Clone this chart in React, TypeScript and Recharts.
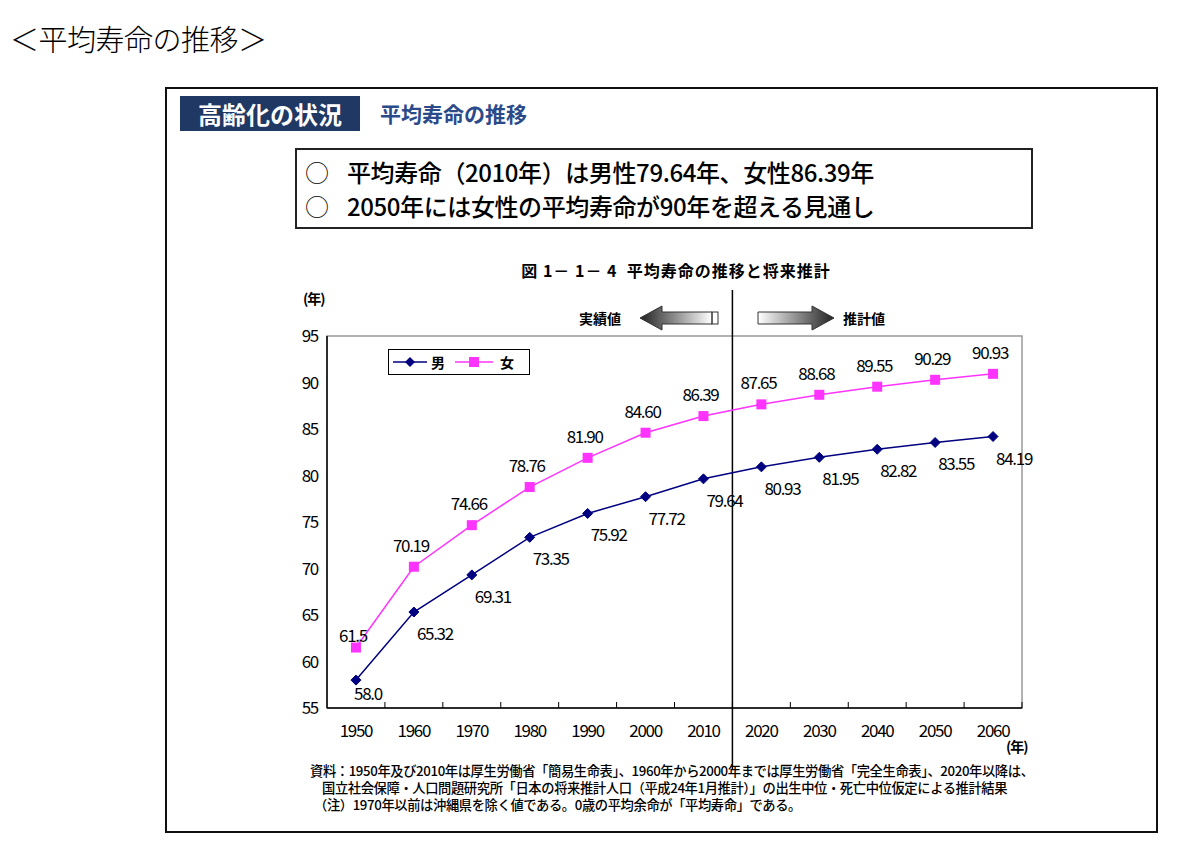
import React from "react";
import {
  LineChart,
  Line,
  XAxis,
  YAxis,
  ReferenceLine,
  ReferenceArea,
  LabelList,
  Legend
} from "recharts";

// 平均寿命の推移と将来推計
const years = [1950, 1960, 1970, 1980, 1990, 2000, 2010, 2020, 2030, 2040, 2050, 2060];
const maleLife = [58.0, 65.32, 69.31, 73.35, 75.92, 77.72, 79.64, 80.93, 81.95, 82.82, 83.55, 84.19];
const femaleLife = [61.5, 70.19, 74.66, 78.76, 81.9, 84.6, 86.39, 87.65, 88.68, 89.55, 90.29, 90.93];
const yTicks = [55, 60, 65, 70, 75, 80, 85, 90, 95];
const xDomain = [1945, 2065];
const projectionStart = 2015;

const FONT = "'Noto Sans CJK JP', 'Noto Sans', sans-serif";
const MALE = "#000080";
const FEMALE = "#ff33ff";

const CHART_W = 800;
const CHART_H = 490;
const MARGIN = { top: 56, right: 38, left: 20, bottom: 32 };
const Y_AXIS_W = 47;
const HALF_BAND =
  (((CHART_W - MARGIN.left - MARGIN.right - Y_AXIS_W) / (xDomain[1] - xDomain[0])) * 10) / 2;

const data = years.map((y, i) => ({ year: y, male: maleLife[i], female: femaleLife[i] }));

const fmt = (v: number, i: number) => (i === 0 ? v.toFixed(1) : v.toFixed(2));

function XTick(props: any) {
  const { x, y, payload } = props;
  return (
    <g>
      <line x1={x + HALF_BAND} x2={x + HALF_BAND} y1={y} y2={y - 6} stroke="#000" strokeWidth={1} />
      <text x={x} y={y + 29} textAnchor="middle" fontSize={17} fontFamily={FONT} letterSpacing={-1.3} fill="#000">
        {payload.value}
      </text>
    </g>
  );
}

function YTick(props: any) {
  const { x, y, payload } = props;
  return (
    <text x={x} y={y + 6} textAnchor="end" fontSize={17} fontFamily={FONT} letterSpacing={-1.3} fill="#000">
      {payload.value}
    </text>
  );
}

function Diamond(props: any) {
  const { cx, cy, index } = props;
  const r = 5;
  return (
    <polygon
      key={`m-${index}`}
      points={`${cx},${cy - r} ${cx + r},${cy} ${cx},${cy + r} ${cx - r},${cy}`}
      fill={MALE}
      stroke={MALE}
    />
  );
}

function Square(props: any) {
  const { cx, cy, index } = props;
  return <rect key={`f-${index}`} x={cx - 5} y={cy - 5} width={10} height={10} fill={FEMALE} />;
}

function maleLabel(props: any) {
  const { x, y, value, index } = props;
  const dx = index === 0 ? 12 : 21;
  const dy = index === 0 ? 20 : 28;
  return (
    <text key={`ml-${index}`} x={x + dx} y={y + dy} textAnchor="middle" fontSize={17} fontFamily={FONT} letterSpacing={-1.3} fill="#000">
      {fmt(value, index)}
    </text>
  );
}

function femaleLabel(props: any) {
  const { x, y, value, index } = props;
  const dy = index === 0 ? -6 : -15;
  return (
    <text key={`fl-${index}`} x={x - 3} y={y + dy} textAnchor="middle" fontSize={17} fontFamily={FONT} letterSpacing={-1.3} fill="#000">
      {fmt(value, index)}
    </text>
  );
}

function LegendBox() {
  return (
    <div
      style={{
        border: "1px solid #000",
        background: "#fff",
        width: 142,
        height: 26,
        boxSizing: "border-box",
        display: "flex",
        alignItems: "center",
        fontFamily: FONT,
        fontSize: 14,
        fontWeight: 700
      }}
    >
      <svg width={34} height={12} style={{ marginLeft: 4 }}>
        <line x1={0} x2={34} y1={6} y2={6} stroke={MALE} strokeWidth={1.5} />
        <polygon points="17,1 22,6 17,11 12,6" fill={MALE} />
      </svg>
      <span style={{ marginLeft: 4 }}>男</span>
      <svg width={38} height={12} style={{ marginLeft: 10 }}>
        <line x1={0} x2={38} y1={6} y2={6} stroke={FEMALE} strokeWidth={1.5} />
        <rect x={14} y={1} width={10} height={10} fill={FEMALE} />
      </svg>
      <span style={{ marginLeft: 7 }}>女</span>
    </div>
  );
}

function DividerShape(props: any) {
  const { x1, y1, x2, y2 } = props;
  const top = Math.min(y1, y2);
  const bottom = Math.max(y1, y2);
  return <line x1={x1} x2={x2} y1={top - 46} y2={bottom + 62} stroke="#000" strokeWidth={1.5} />;
}

function Arrows() {
  return (
    <svg width={1200} height={40} style={{ position: "absolute", left: 0, top: 298 }}>
      <defs>
        <linearGradient id="gl" x1="0" x2="1" y1="0" y2="0">
          <stop offset="0%" stopColor="#222" />
          <stop offset="100%" stopColor="#fff" />
        </linearGradient>
        <linearGradient id="gr" x1="0" x2="1" y1="0" y2="0">
          <stop offset="0%" stopColor="#fff" />
          <stop offset="100%" stopColor="#222" />
        </linearGradient>
      </defs>
      <polygon points="640,20 662,8 662,14 712,14 712,26 662,26 662,32" fill="url(#gl)" stroke="#333" strokeWidth={1} />
      <rect x={712} y={14} width={6} height={12} fill="none" stroke="#333" />
      <polygon points="758,14 812,14 812,8 834,20 812,32 812,26 758,26" fill="url(#gr)" stroke="#333" strokeWidth={1} />
      <text x={600} y={26} textAnchor="middle" fontSize={14} fontWeight={700} fontFamily={FONT}>実績値</text>
      <text x={864} y={26} textAnchor="middle" fontSize={14} fontWeight={700} fontFamily={FONT}>推計値</text>
    </svg>
  );
}

export default function App() {
  return (
    <div style={{ position: "absolute", left: 0, top: 0, width: 1200, height: 848, background: "#fff", fontFamily: FONT }}>
      <div style={{ position: "absolute", left: 10, top: 17, fontSize: 29, fontWeight: 300, color: "#000", letterSpacing: -0.5 }}>
        ＜平均寿命の推移＞
      </div>

      <div style={{ position: "absolute", left: 165, top: 87, width: 993, height: 746, border: "2px solid #111", boxSizing: "border-box" }} />

      <div
        style={{
          position: "absolute",
          left: 180,
          top: 96,
          width: 180,
          height: 35,
          background: "#1f3864",
          color: "#fff",
          fontSize: 24,
          fontWeight: 700,
          display: "flex",
          alignItems: "center",
          justifyContent: "center"
        }}
      >
        高齢化の状況
      </div>
      <div style={{ position: "absolute", left: 380, top: 98, fontSize: 21, fontWeight: 700, color: "#2b4a8a" }}>
        平均寿命の推移
      </div>

      <div
        style={{
          position: "absolute",
          left: 295,
          top: 148,
          width: 738,
          height: 81,
          border: "2px solid #222",
          boxSizing: "border-box",
          fontSize: 24,
          fontWeight: 500,
          lineHeight: "34px",
          padding: "5px 0 0 8px",
          letterSpacing: -0.4
        }}
      >
        <div>
          <span style={{ display: "inline-block", width: 42, fontWeight: 300 }}>○</span>
          平均寿命（2010年）は男性79.64年、女性86.39年
        </div>
        <div>
          <span style={{ display: "inline-block", width: 42, fontWeight: 300 }}>○</span>
          2050年には女性の平均寿命が90年を超える見通し
        </div>
      </div>

      <div style={{ position: "absolute", left: 0, width: 1352, top: 258, textAlign: "center", fontSize: 16, fontWeight: 700, letterSpacing: 1 }}>
        図 1－ 1－ 4&nbsp;&nbsp;平均寿命の推移と将来推計
      </div>

      <div style={{ position: "absolute", left: 303, top: 288, fontSize: 14, fontWeight: 700, letterSpacing: -1 }}>(年)</div>
      <div style={{ position: "absolute", left: 1006, top: 736, fontSize: 14, fontWeight: 700, letterSpacing: -1 }}>(年)</div>

      <Arrows />

      <div style={{ position: "absolute", left: 260, top: 280 }}>
        <LineChart width={CHART_W} height={CHART_H} data={data} margin={MARGIN}>
          <ReferenceArea x1={xDomain[0]} x2={xDomain[1]} y1={55} y2={95} fill="none" stroke="#999" strokeWidth={1.5} />
          <XAxis
            dataKey="year"
            type="number"
            domain={xDomain}
            ticks={years}
            height={30}
            tickSize={0}
            tickMargin={0}
            tickLine={false}
            axisLine={{ stroke: "#000", strokeWidth: 1.5 }}
            tick={<XTick />}
            interval={0}
          />
          <YAxis
            type="number"
            domain={[55, 95]}
            ticks={yTicks}
            width={Y_AXIS_W}
            tickSize={0}
            tickMargin={9}
            tickLine={false}
            axisLine={{ stroke: "#000", strokeWidth: 1.5 }}
            tick={<YTick />}
            interval={0}
          />
          <ReferenceLine x={projectionStart} shape={<DividerShape />} />
          <Legend
            layout="horizontal"
            verticalAlign="middle"
            align="center"
            content={<LegendBox />}
            wrapperStyle={{ left: 128, top: 69, width: 142, height: 26 }}
          />
          <Line
            dataKey="male"
            name="男"
            stroke={MALE}
            strokeWidth={1.5}
            dot={<Diamond />}
            isAnimationActive={false}
          >
            <LabelList dataKey="male" content={maleLabel} />
          </Line>
          <Line
            dataKey="female"
            name="女"
            stroke={FEMALE}
            strokeWidth={1.5}
            dot={<Square />}
            isAnimationActive={false}
          >
            <LabelList dataKey="female" content={femaleLabel} />
          </Line>
        </LineChart>
      </div>

      <div style={{ position: "absolute", left: 310, top: 762, fontSize: 13.3, fontWeight: 500, lineHeight: "17px", letterSpacing: -0.4, whiteSpace: "nowrap" }}>
        <div>資料：1950年及び2010年は厚生労働省「簡易生命表」、1960年から2000年までは厚生労働省「完全生命表」、2020年以降は、</div>
        <div style={{ paddingLeft: 12 }}>国立社会保障・人口問題研究所「日本の将来推計人口（平成24年1月推計）」の出生中位・死亡中位仮定による推計結果</div>
        <div style={{ paddingLeft: 4 }}>（注）1970年以前は沖縄県を除く値である。0歳の平均余命が「平均寿命」である。</div>
      </div>
    </div>
  );
}
